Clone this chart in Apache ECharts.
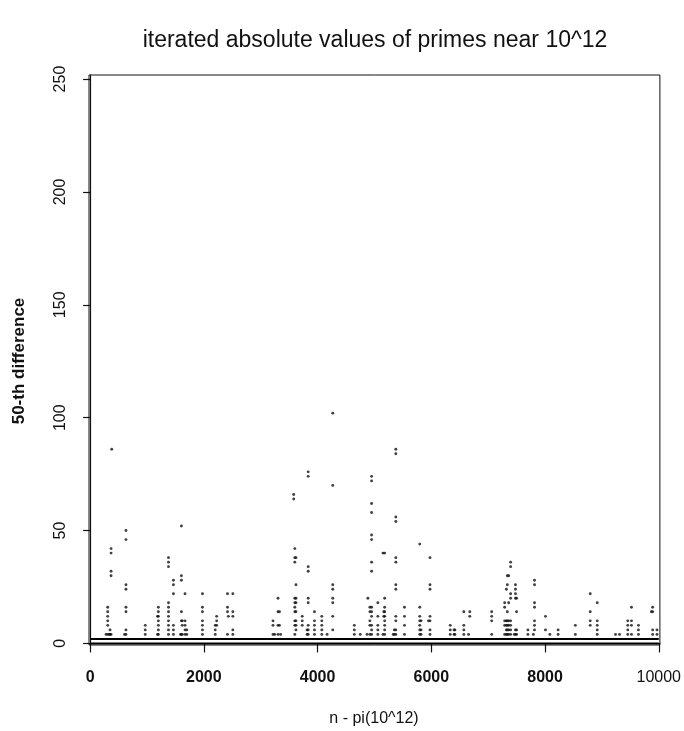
<!DOCTYPE html>
<html><head><meta charset="utf-8">
<script src="https://cdn.jsdelivr.net/npm/echarts@6/dist/echarts.min.js"></script>
<style>html,body{margin:0;padding:0;background:#fff}#c{width:684px;height:731px}</style>
</head><body><div id="c"></div>
<script>
const titleText = 'iterated absolute values of primes near 10^12';
const xName = 'n - pi(10^12)';
const yName = '50-th difference';
const xTicks = [0, 2000, 4000, 6000, 8000, 10000];
const yTicks = [0, 50, 100, 150, 200, 250];

// dense bands of 0s and 2s spanning the whole range
const bandValues = [0, 2];
const bandRange = [0, 10000];

// x positions of columns of scattered values and the values in each column
const columnX = [
  280, 309, 340, 350, 368, 380, 605, 630, 969, 1185, 1200, 1378, 1465, 1590, 1605, 1620, 1669, 1700, 1975,
  2200, 2225, 2416, 2430, 2510, 3216, 3245, 3304, 3330, 3350, 3580, 3600, 3620, 3730, 3815, 3835, 3945,
  4074, 4167, 4267, 4646, 4751, 4870, 4885, 4920, 4950, 5060, 5150, 5165, 5180, 5330, 5350, 5376, 5528,
  5797, 5820, 5950, 5977, 6333, 6400, 6415, 6572, 6655, 6677, 7062, 7290, 7320, 7337, 7360, 7395, 7460,
  7480, 7500, 7699, 7795, 7815, 8008, 8085, 8230, 8533, 8795, 8918, 9240, 9310, 9455, 9520, 9643, 9870, 9893, 9969
];
const columnValues = [
  [4], [16,14,12,10,8,4], [4], [6,4], [42,40,32,30,4], [86], [4], [50,46,26,24,16,14,6,4], [8,6,4], [12,4], [16,14,12,10,8,6,4],
  [38,36,34,18,16,14,12,10,8,6,4], [28,26,22,8,6,4], [4], [52,30,28,14,10,4], [10,8,4], [22,10,8,6,4], [6,4], [22,16,14,10,8,6,4],
  [8,6,4], [12,10,8], [22,16,14,4], [12], [22,14,12,6,4], [10,8,4], [4], [20,14,8,4], [14,8], [4],
  [66,64], [42,38,36,20,18,16,14,10,8,4], [38,26,20,18,14,10,8,6], [12,10,8], [6,4], [76,74,34,32,20,18,8,6,4], [14,10,8,6,4],
  [12,10,8,6,4], [4], [102,70,26,24,20,18,12,6], [8,6,4], [4], [4], [20], [16,14,10,8,4], [74,72,62,58,48,46,36,32,16,14,12,8,6,4],
  [18,12,8,6,4], [40,4], [14,12], [40,20,16,14,12,10,8,6,4], [4], [6,4], [86,84,56,54,38,36,26,24,12,10,6,4], [16,12,8,4],
  [44,16,12,10,8,6,4], [10,6,4], [10], [38,26,24,12,10,6,4], [8,6,4], [6,4], [6,4], [14,8,6,4], [4], [14,12], [14,12,10,4],
  [18,16,10,8,4], [24,10,8,6,4], [30,26,14,10,8,6,4], [30,18,10,8,6,4], [36,34,22,20,10,8,6,4], [4],
  [26,24,22,20,6,4], [20,14,6,4], [6,4], [4], [28,26,18,16,10,8,6], [12,6], [4], [6,4], [8,4], [22,14,10,8], [18,10,8,6,4],
  [4], [4], [10,8,6,4], [16,10,8,4], [8,6,4], [14], [16,14,6,4], [6,4]
];

const points = [];
columnX.forEach((x, i) => columnValues[i].forEach(v => points.push([x, v])));

const FONT = '"Liberation Sans", Arial, Helvetica, sans-serif';
const chart = echarts.init(document.getElementById('c'), null, {renderer: 'canvas'});
chart.setOption({
  animation: false,
  backgroundColor: '#fff',
  grid: {left: 89, right: 22, top: 75, bottom: 86, show: true, borderColor: '#111', borderWidth: 1, backgroundColor: 'transparent'},
  xAxis: {
    type: 'value', min: -20, max: 10020,
    axisLine: {show: true, lineStyle: {color: '#111', width: 1}},
    axisTick: {show: true, inside: false, length: 9, customValues: xTicks, lineStyle: {color: '#111', width: 1.2}},
    axisLabel: {
      customValues: xTicks, margin: 25, color: '#111', fontSize: 16, fontWeight: 'bold', fontFamily: FONT,
      formatter: v => v === 10000 ? '{n|10000}' : String(v),
      rich: {n: {fontSize: 16, fontWeight: 'normal', fontFamily: FONT, color: '#111'}}
    },
    splitLine: {show: false}
  },
  yAxis: {
    type: 'value', min: -0.7, max: 251.8,
    axisLine: {show: true, lineStyle: {color: '#111', width: 1.2}},
    axisTick: {show: true, inside: false, length: 7, customValues: yTicks, lineStyle: {color: '#111', width: 1.2}},
    axisLabel: {customValues: yTicks, rotate: 90, margin: 20, color: '#111', fontSize: 16, fontFamily: FONT},
    splitLine: {show: false}
  },
  graphic: [
    {type: 'text', x: 375, y: 41, style: {text: titleText, textAlign: 'center', textVerticalAlign: 'middle', font: '23px ' + FONT, fill: '#111'}},
    {type: 'text', x: 374, y: 719, style: {text: xName, textAlign: 'center', textVerticalAlign: 'middle', font: '16px ' + FONT, fill: '#111'}},
    {type: 'text', x: 19, y: 361, rotation: Math.PI / 2, style: {text: yName, textAlign: 'center', textVerticalAlign: 'middle', font: 'bold 17px ' + FONT, fill: '#111'}}
  ],
  series: bandValues.map(v => ({
    type: 'line', data: bandRange.map(x => [x, v]), symbol: 'none', silent: true,
    lineStyle: {color: '#000', width: 2}
  })).concat([{
    type: 'scatter', data: points, symbol: 'circle', symbolSize: 2.9,
    itemStyle: {color: '#111'}, silent: true
  }])
});
</script>
</body></html>
